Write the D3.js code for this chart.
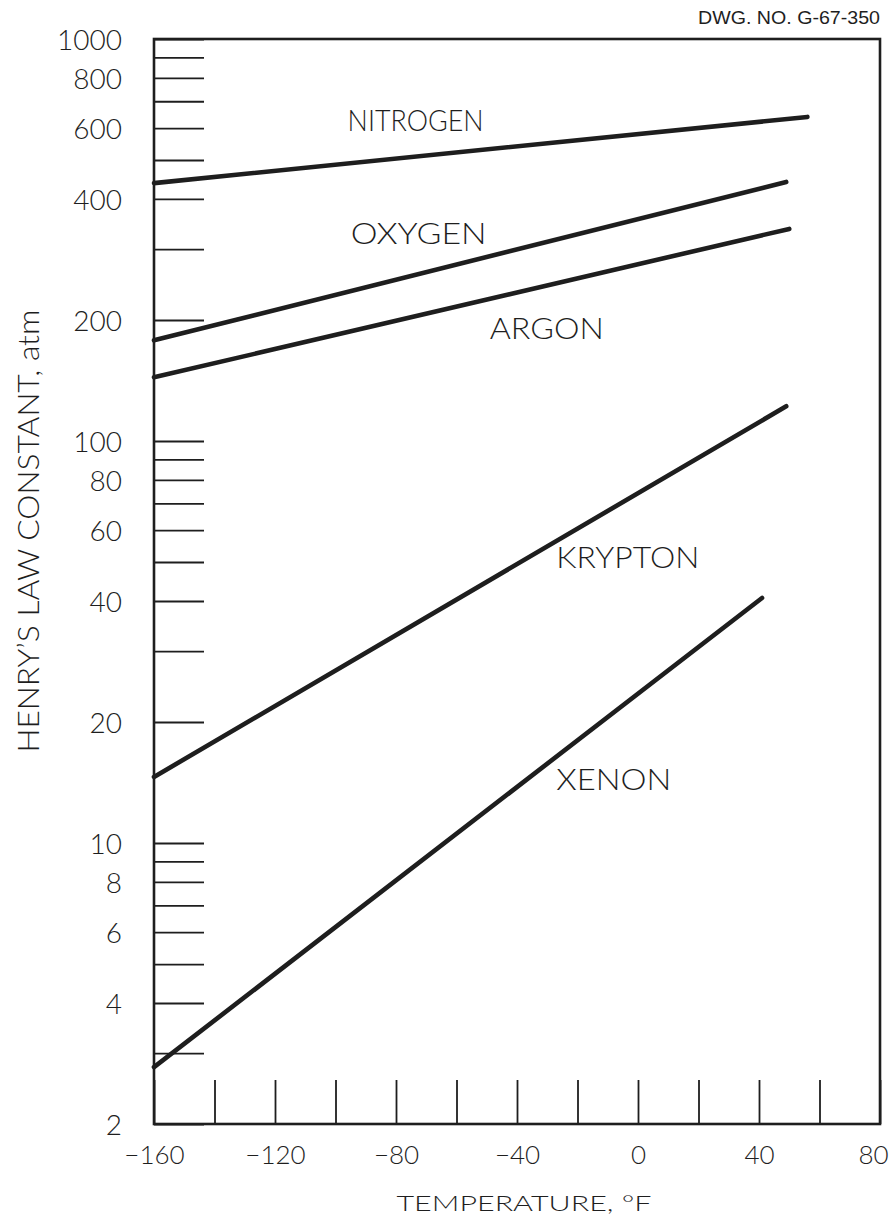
<!DOCTYPE html>
<html>
<head>
<meta charset="utf-8">
<script src="https://cdn.jsdelivr.net/npm/d3@7"></script>
<style>
  body { margin: 0; background: #fff; }
  svg { display: block; }
  text { font-family: Lato, "Noto Sans", sans-serif; font-weight: 300; fill: #1e1e1e; }
</style>
</head>
<body>
<svg id="chart" width="894" height="1226"></svg>
<script>
// gases, each drawn as a straight line from -160 F to its end temperature
const gases = ['NITROGEN', 'OXYGEN', 'ARGON', 'KRYPTON', 'XENON'];
const startTemp = [-160, -160, -160, -160, -160];
const endTemp = [56, 49, 50, 49, 41];
const startK = [438, 178, 144, 14.6, 2.77];
const endK = [640, 441, 337, 122, 40.7];

// where each gas name sits, in chart units (temperature, atm)
const labelTemp = [-96, -95, -49, -27, -27];
const labelK = [625, 329, 190, 51.2, 14.35];

const xTicks = d3.range(-160, 81, 20);
const xLabels = [-160, -120, -80, -40, 0, 40, 80];
const yLabels = [1000, 800, 600, 400, 200, 100, 80, 60, 40, 20, 10, 8, 6, 4, 2];

const svg = d3.select('#chart');
const ink = '#1e1e1e';

const x = d3.scaleLinear().domain([-160, 80]).range([154, 880]);
const y = d3.scaleLog().domain([2, 1000]).range([1124, 39]);

// y axis, ticks pointing into the plot
const yAxis = d3.axisLeft(y)
  .tickValues(y.ticks())
  .tickSizeInner(-50)
  .tickSizeOuter(0)
  .tickPadding(32)
  .tickFormat(d => yLabels.includes(d) ? d : '');

const gy = svg.append('g').attr('transform', `translate(${x(-160)},0)`).call(yAxis);
gy.select('.domain').remove();
gy.selectAll('.tick line').attr('stroke', ink).attr('stroke-width', 1.8);
gy.selectAll('.tick text')
  .attr('font-size', 28)
  .attr('dy', '0.36em')
  .style('fill', ink);

// x axis, ticks pointing up
const xAxis = d3.axisBottom(x)
  .tickValues(xTicks)
  .tickSizeInner(-44)
  .tickSizeOuter(0)
  .tickPadding(22)
  .tickFormat(d => xLabels.includes(d) ? d3.format('')(d).replace('-', '\u2212') : '');

const gx = svg.append('g').attr('transform', `translate(0,${y(2)})`).call(xAxis);
gx.select('.domain').remove();
gx.selectAll('.tick line').attr('stroke', ink).attr('stroke-width', 1.8);
gx.selectAll('.tick text')
  .attr('font-size', 26)
  .attr('dx', d => d === 80 ? -7 : 0)
  .style('fill', ink);

// frame
svg.append('rect')
  .attr('x', x(-160))
  .attr('y', y(1000))
  .attr('width', x(80) - x(-160))
  .attr('height', y(2) - y(1000))
  .attr('fill', 'none')
  .attr('stroke', ink)
  .attr('stroke-width', 2.6);

// gas lines
const line = d3.line().x(d => x(d[0])).y(d => y(d[1]));
const rows = gases.map((g, i) => ({
  name: g,
  pts: [[startTemp[i], startK[i]], [endTemp[i], endK[i]]],
  lx: labelTemp[i],
  ly: labelK[i]
}));

svg.append('g').selectAll('path').data(rows).enter()
  .append('path')
  .attr('d', d => line(d.pts))
  .attr('fill', 'none')
  .attr('stroke', ink)
  .attr('stroke-width', 4.6)
  .attr('stroke-linecap', 'round');

const widths = { NITROGEN: 136, OXYGEN: 136, ARGON: 114, KRYPTON: 143, XENON: 115 };
svg.append('g').selectAll('text').data(rows).enter()
  .append('text')
  .attr('x', d => x(d.lx))
  .attr('y', d => y(d.ly))
  .attr('dy', '0.36em')
  .attr('font-size', 29)
  .attr('textLength', d => widths[d.name])
  .attr('lengthAdjust', 'spacingAndGlyphs')
  .text(d => d.name);

// axis titles
svg.append('text')
  .attr('transform', 'translate(28,531) rotate(-90)')
  .attr('text-anchor', 'middle')
  .attr('dy', '0.36em')
  .attr('font-size', 30)
  .attr('textLength', 443)
  .attr('lengthAdjust', 'spacingAndGlyphs')
  .text("HENRY\u2019S LAW CONSTANT, atm");

svg.append('text')
  .attr('x', 524)
  .attr('y', 1203)
  .attr('text-anchor', 'middle')
  .attr('dy', '0.36em')
  .attr('font-size', 22)
  .attr('textLength', 255)
  .attr('lengthAdjust', 'spacingAndGlyphs')
  .text('TEMPERATURE, \u00b0F');

svg.append('text')
  .attr('x', 880)
  .attr('y', 18)
  .attr('text-anchor', 'end')
  .attr('dy', '0.36em')
  .attr('font-size', 18)
  .attr('textLength', 182)
  .attr('lengthAdjust', 'spacingAndGlyphs')
  .style('font-family', '"Liberation Sans", Arial, sans-serif')
  .style('font-weight', 400)
  .text('DWG. NO. G-67-350');
</script>
</body>
</html>
